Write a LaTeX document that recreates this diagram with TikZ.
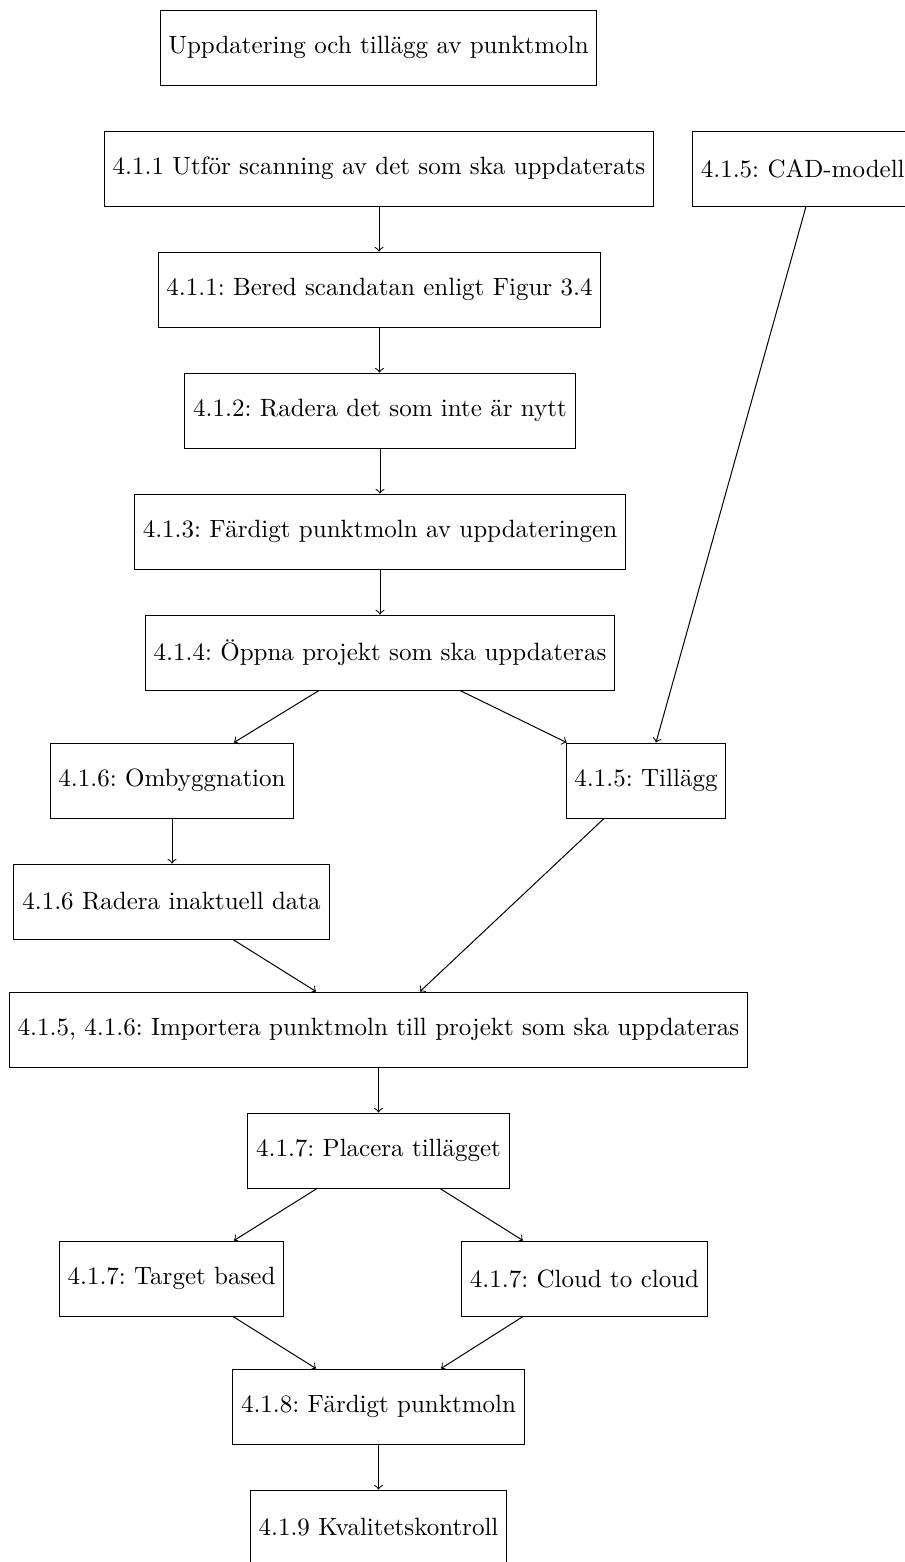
\documentclass[tikz,border=0pt]{standalone}
\usetikzlibrary{arrows}
\newcommand{\pxu}{0.4pt}
\frenchspacing
\begin{document}
\begin{tikzpicture}[x=0.4pt,y=-0.4pt,
  box/.style={draw,rectangle,minimum height=30pt,inner sep=3.333pt,line width=0.4pt},
  conn/.style={->,line width=0.4pt}]
\useasboundingbox (0,0) rectangle (905,1562);
\node[box] (title) at (378.5,47.5) {Uppdatering och tillägg av punktmoln};
\node[box] (scan) at (379,168.5) {4.1.1 Utför scanning av det som ska uppdaterats};
\node[box,anchor=west] (cad) at (692,168.5) {4.1.5: CAD-modell};
\node[box] (bered) at (379.5,289.5) {4.1.1: Bered scandatan enligt Figur 3.4};
\node[box] (radera) at (380,410.5) {4.1.2: Radera det som inte är nytt};
\node[box] (fardig) at (380,531.5) {4.1.3: Färdigt punktmoln av uppdateringen};
\node[box] (oppna) at (380,652.5) {4.1.4: Öppna projekt som ska uppdateras};
\node[box] (omb) at (172,780.5) {4.1.6: Ombyggnation};
\node[box] (tillagg) at (646,780.5) {4.1.5: Tillägg};
\node[box] (inakt) at (171.5,901.5) {4.1.6 Radera inaktuell data};
\node[box] (import) at (378.5,1029.5) {4.1.5, 4.1.6: Importera punktmoln till projekt som ska uppdateras};
\node[box] (placera) at (378.5,1150.5) {4.1.7: Placera tillägget};
\node[box] (target) at (171.5,1278.5) {4.1.7: Target based};
\node[box] (cloud) at (584.5,1278.5) {4.1.7: Cloud to cloud};
\node[box] (klart) at (378.5,1406.5) {4.1.8: Färdigt punktmoln};
\node[box] (kval) at (378.5,1527.5) {4.1.9 Kvalitetskontroll};

\draw[conn] (scan.south) -- (scan.south |- bered.north);
\draw[conn] (bered.south) -- (bered.south |- radera.north);
\draw[conn] (radera.south) -- (radera.south |- fardig.north);
\draw[conn] (fardig.south) -- (fardig.south |- oppna.north);
\draw[conn] ([xshift=114*\pxu]cad.south west) -- ([xshift=10*\pxu]tillagg.north);
\draw[conn] ([xshift=-61*\pxu]oppna.south) -- ([xshift=62*\pxu]omb.north);
\draw[conn] ([xshift=80*\pxu]oppna.south) -- ([xshift=1*\pxu]tillagg.north west);
\draw[conn] (omb.south) -- (omb.south |- inakt.north);
\draw[conn] ([xshift=61.5*\pxu]inakt.south) -- ([xshift=-62.5*\pxu]import.north);
\draw[conn] ([xshift=-42*\pxu]tillagg.south) -- ([xshift=41.5*\pxu]import.north);
\draw[conn] (import.south) -- (import.south |- placera.north);
\draw[conn] ([xshift=-61.5*\pxu]placera.south) -- ([xshift=62.5*\pxu]target.north);
\draw[conn] ([xshift=61.5*\pxu]placera.south) -- ([xshift=-61.5*\pxu]cloud.north);
\draw[conn] ([xshift=61.5*\pxu]target.south) -- ([xshift=-62.5*\pxu]klart.north);
\draw[conn] ([xshift=-61.5*\pxu]cloud.south) -- ([xshift=62.5*\pxu]klart.north);
\draw[conn] (klart.south) -- (klart.south |- kval.north);
\end{tikzpicture}
\end{document}
